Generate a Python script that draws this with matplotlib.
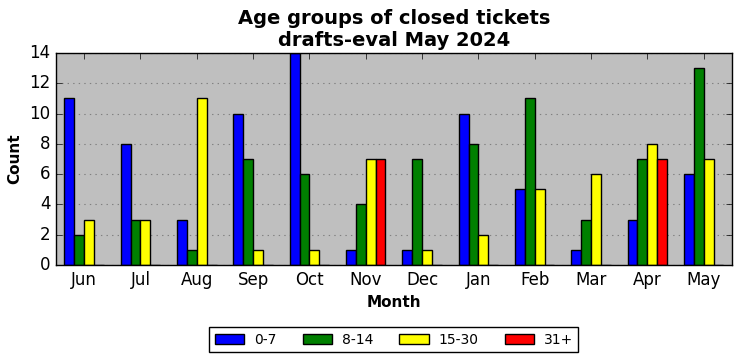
import numpy as np
import matplotlib
matplotlib.use("Agg")
import matplotlib.pyplot as plt

months = ['Jun', 'Jul', 'Aug', 'Sep', 'Oct', 'Nov', 'Dec', 'Jan', 'Feb', 'Mar', 'Apr', 'May']
groups = ['0-7', '8-14', '15-30', '31+']
age_0_7 = [11, 8, 3, 10, 14, 1, 1, 10, 5, 1, 3, 6]
age_8_14 = [2, 3, 1, 7, 6, 4, 7, 8, 11, 3, 7, 13]
age_15_30 = [3, 3, 11, 1, 1, 7, 1, 2, 5, 6, 8, 7]
age_31 = [0, 0, 0, 0, 0, 7, 0, 0, 0, 0, 7, 0]
colors = ['blue', 'green', 'yellow', 'red']

plt.style.use('classic')
fig = plt.figure(figsize=(7.41, 3.61), dpi=100, facecolor='white')
ax = fig.add_axes([0.0756, 0.266, 0.912, 0.587])
ax.set_facecolor('#bfbfbf')

series = [age_0_7, age_8_14, age_15_30, age_31]
x = np.arange(len(months))
total = 0.7
w = total / len(series)
for i, vals in enumerate(series):
    ax.bar(x - total / 2 + i * w, vals, width=w, align='edge',
           color=colors[i], edgecolor='black', linewidth=1, label=groups[i], zorder=2)

ax.set_xlim(-0.5, len(months) - 0.5)
ax.set_ylim(0, 14)
ax.set_yticks(range(0, 15, 2))
ax.set_xticks(x)
ax.set_xticklabels(months)
ax.tick_params(labelsize=12)
ax.yaxis.grid(True, linestyle=':', color='gray', linewidth=0.8, zorder=0)
ax.xaxis.grid(False)
ax.set_axisbelow(True)

ax.set_title('Age groups of closed tickets\ndrafts-eval May 2024', fontsize=14, fontweight='bold')
ax.set_xlabel('Month', fontsize=11, fontweight='bold')
ax.set_ylabel('Count', fontsize=11, fontweight='bold')

ax.legend(loc='upper center', bbox_to_anchor=(0.5, -0.26), ncol=4, fontsize=10,
          fancybox=False, frameon=True, handlelength=2.1, columnspacing=1.9,
          handletextpad=0.7)

fig.savefig('out.png', dpi=100, facecolor='white')
